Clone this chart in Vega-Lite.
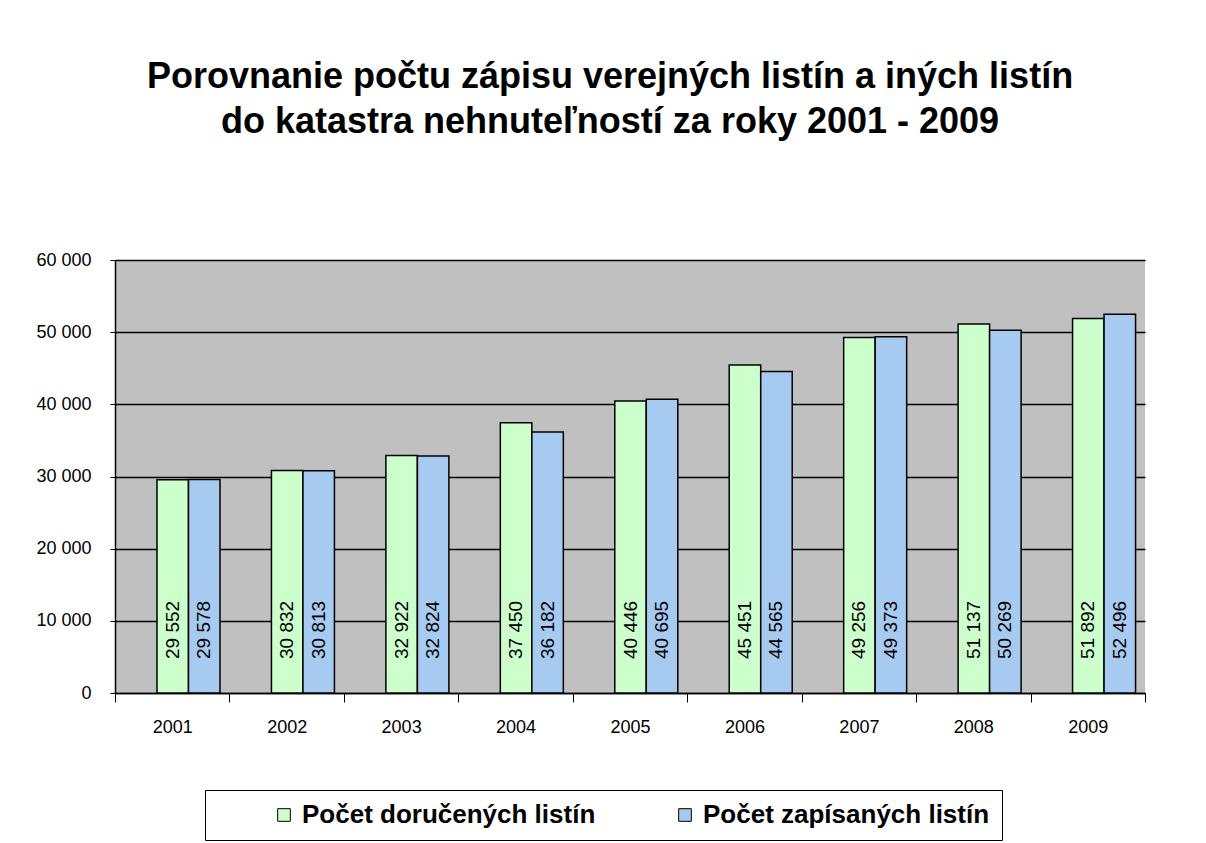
{
  "$schema": "https://vega.github.io/schema/vega-lite/v6.json",
  "width": 1030,
  "height": 433,
  "autosize": {"type": "none"},
  "padding": {"left": 115, "top": 260, "right": 61, "bottom": 150},
  "background": "white",
  "title": {
    "text": ["Porovnanie počtu zápisu verejných listín a iných listín", "do katastra nehnuteľností za roky 2001 - 2009"],
    "fontSize": 36,
    "font": "Liberation Sans",
    "fontWeight": "bold",
    "color": "black",
    "anchor": "middle",
    "offset": 110,
    "lineHeight": 45,
    "dx": -20
  },
  "config": {
    "locale": {"number": {"decimal": ",", "thousands": " ", "grouping": [3], "currency": ["", ""]}},
    "view": {"fill": "#C0C0C0", "stroke": null},
    "font": "Liberation Sans"
  },
  "data": {
    "values": [
      {"year": "2001", "series": "Počet doručených listín", "value": 29552},
      {"year": "2001", "series": "Počet zapísaných listín", "value": 29578},
      {"year": "2002", "series": "Počet doručených listín", "value": 30832},
      {"year": "2002", "series": "Počet zapísaných listín", "value": 30813},
      {"year": "2003", "series": "Počet doručených listín", "value": 32922},
      {"year": "2003", "series": "Počet zapísaných listín", "value": 32824},
      {"year": "2004", "series": "Počet doručených listín", "value": 37450},
      {"year": "2004", "series": "Počet zapísaných listín", "value": 36182},
      {"year": "2005", "series": "Počet doručených listín", "value": 40446},
      {"year": "2005", "series": "Počet zapísaných listín", "value": 40695},
      {"year": "2006", "series": "Počet doručených listín", "value": 45451},
      {"year": "2006", "series": "Počet zapísaných listín", "value": 44565},
      {"year": "2007", "series": "Počet doručených listín", "value": 49256},
      {"year": "2007", "series": "Počet zapísaných listín", "value": 49373},
      {"year": "2008", "series": "Počet doručených listín", "value": 51137},
      {"year": "2008", "series": "Počet zapísaných listín", "value": 50269},
      {"year": "2009", "series": "Počet doručených listín", "value": 51892},
      {"year": "2009", "series": "Počet zapísaných listín", "value": 52496}
    ]
  },
  "encoding": {
    "x": {
      "field": "year",
      "type": "ordinal",
      "scale": {"paddingInner": 0, "paddingOuter": 0},
      "axis": {
        "title": null,
        "labelAngle": 0,
        "labelFontSize": 18,
        "labelColor": "black",
        "domainColor": "black",
        "domainWidth": 1.5,
        "tickColor": "black",
        "tickSize": 9,
        "tickBand": "extent",
        "labelPadding": 16
      }
    },
    "xOffset": {
      "field": "series",
      "type": "nominal",
      "sort": ["Počet doručených listín", "Počet zapísaných listín"],
      "scale": {"range": [42, 105], "paddingInner": 0, "paddingOuter": 0}
    }
  },
  "layer": [
    {
      "mark": {"type": "bar", "stroke": "black", "strokeWidth": 1.5},
      "encoding": {
        "y": {
          "field": "value",
          "type": "quantitative",
          "scale": {"domain": [0, 60000], "nice": false},
          "axis": {
            "title": null,
            "values": [0, 10000, 20000, 30000, 40000, 50000, 60000],
            "format": ",d",
            "labelFontSize": 18,
            "labelColor": "black",
            "domainColor": "black",
            "domainWidth": 1.5,
            "tickColor": "black",
            "tickSize": 5,
            "labelPadding": 19,
            "grid": true,
            "gridColor": "black",
            "gridWidth": 1.5
          }
        },
        "color": {
          "field": "series",
          "type": "nominal",
          "scale": {"domain": ["Počet doručených listín", "Počet zapísaných listín"], "range": ["#CCFFCC", "#A6CAF0"]},
          "legend": {
            "title": null,
            "orient": "none",
            "legendX": 90,
            "legendY": 530,
            "direction": "horizontal",
            "labelFontSize": 26,
            "labelFontWeight": "bold",
            "labelColor": "black",
            "labelLimit": 0,
            "symbolType": "square",
            "symbolSize": 160,
            "symbolStrokeColor": "black",
            "symbolStrokeWidth": 1,
            "symbolOpacity": 1,
            "strokeColor": "black",
            "fillColor": "white",
            "padding": 12,
            "columnPadding": 22,
            "labelOffset": 5,
            "symbolOffset": 54
          }
        }
      }
    },
    {
      "mark": {"type": "text", "angle": 270, "align": "left", "baseline": "middle", "dx": 34, "fontSize": 19, "color": "black"},
      "encoding": {
        "y": {"datum": 0, "type": "quantitative"},
        "text": {"field": "value", "type": "quantitative", "format": ",d"}
      }
    }
  ]
}
